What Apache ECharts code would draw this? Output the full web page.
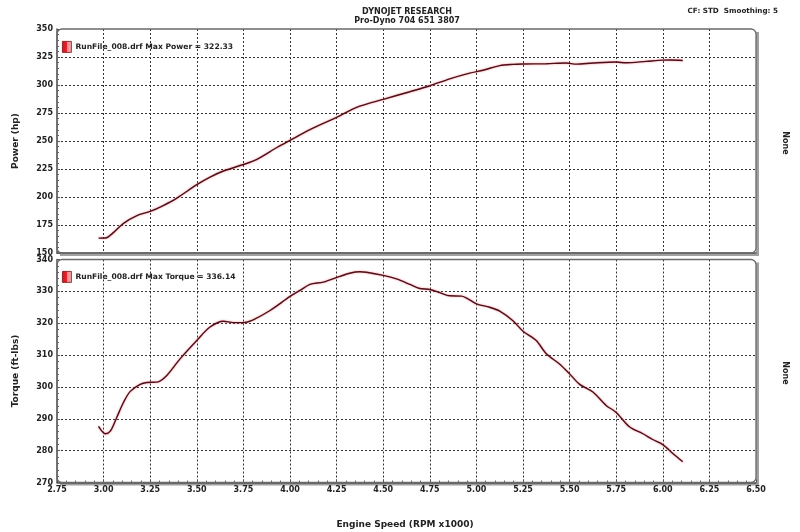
<!DOCTYPE html>
<html>
<head>
<meta charset="utf-8">
<title>Dynojet run</title>
<style>
  html, body { margin: 0; padding: 0; background: #fff; }
  #chart { width: 800px; height: 532px; }
</style>
</head>
<body>
<div id="chart"></div>
<script src="https://cdn.jsdelivr.net/npm/echarts@6/dist/echarts.min.js"></script>
<script>
// engine speed (RPM x1000) and readings
var powerRpm = [2.973, 3.01, 3.054, 3.107, 3.179, 3.25, 3.32, 3.393, 3.50, 3.571, 3.643, 3.75, 3.82, 3.93, 4.00,
  4.107, 4.25, 4.357, 4.50, 4.643, 4.75, 4.857, 4.964, 5.036, 5.125, 5.196, 5.25, 5.375, 5.482, 5.536,
  5.625, 5.75, 5.804, 5.911, 6.00, 6.036, 6.107];
var powerHp = [163.3, 163.4, 168.4, 176.5, 183.4, 187.2, 192.4, 199.0, 211.0, 217.8, 223.2, 229.0, 233.4, 244.2, 250.6,
  260.2, 271.0, 280.0, 287.2, 294.0, 299.3, 305.5, 310.6, 313.2, 317.3, 318.4, 318.7, 319.0, 319.6, 318.6,
  319.6, 320.5, 319.8, 321.1, 322.2, 322.33, 321.9];

var torqueRpm = [2.973, 3.009, 3.036, 3.071, 3.107, 3.143, 3.196, 3.232, 3.286, 3.339, 3.41, 3.50, 3.571, 3.643,
  3.696, 3.75, 3.80, 3.893, 4.00, 4.054, 4.107, 4.179, 4.268, 4.32, 4.375, 4.41, 4.50, 4.571, 4.643, 4.696,
  4.75, 4.804, 4.857, 4.92, 5.00, 5.071, 5.125, 5.196, 5.25, 5.321, 5.375, 5.446, 5.50, 5.554, 5.625,
  5.696, 5.75, 5.821, 5.893, 5.946, 6.00, 6.054, 6.107];
var torqueLbft = [287.6, 285.3, 286.1, 290.5, 295.2, 298.6, 300.8, 301.4, 301.5, 303.6, 308.8, 314.6, 318.8, 320.6,
  320.2, 320.2, 321.0, 324.0, 328.4, 330.3, 332.2, 332.9, 334.7, 335.7, 336.14, 336.0, 335.0, 333.9, 332.2, 330.9,
  330.6, 329.6, 328.6, 328.5, 326.1, 325.0, 323.8, 320.8, 317.5, 314.6, 310.4, 307.2, 304.1, 300.8, 298.4,
  294.2, 292.0, 287.5, 285.3, 283.5, 281.9, 279.1, 276.5];

var powerName = 'RunFile_008.drf Max Power = 322.33';
var torqueName = 'RunFile_008.drf Max Torque = 336.14';

var FONT = 'DejaVu Sans';
var lineColor = '#4e0f1c';

function pairs(xs, ys) {
  return xs.map(function (x, i) { return [x, ys[i]]; });
}

var grids = [
  { left: 57, top: 29, width: 699, height: 224 },
  { left: 57, top: 259.5, width: 699, height: 223 }
];

function gridOpt(g) {
  return {
    left: g.left, top: g.top, width: g.width, height: g.height,
    show: true, backgroundColor: '#fff', borderWidth: 0,
    shadowColor: '#a0a0a0', shadowBlur: 0, shadowOffsetX: 3, shadowOffsetY: 3
  };
}

function boxRect(g) {
  return {
    type: 'rect', z: 100, silent: true,
    shape: { x: g.left, y: g.top, width: g.width, height: g.height, r: 5 },
    style: { fill: null, stroke: '#6a6a6a', lineWidth: 1.3 }
  };
}

var splitStyle = { show: true, showMinLine: false, showMaxLine: false, lineStyle: { color: '#333', type: [2, 2], width: 1 } };
var labelStyle = { color: '#222', fontFamily: FONT, fontWeight: 'bold', fontSize: 8 };
var iconColor = {
  type: 'linear', x: 0, y: 0, x2: 1, y2: 0,
  colorStops: [{ offset: 0, color: '#d8121c' }, { offset: 0.5, color: '#e0262e' }, { offset: 0.55, color: '#f08a8a' }, { offset: 1, color: '#f6b0b0' }]
};

function xAxisOpt(idx, showLabels) {
  return {
    type: 'value', gridIndex: idx, min: 2.75, max: 6.5, interval: 0.25,
    axisLine: { show: true, lineStyle: { color: '#555', width: 1.5 } },
    axisTick: { show: showLabels, inside: true, length: 3, lineStyle: { color: '#555' } },
    minorTick: { show: showLabels, splitNumber: 5, length: 2, lineStyle: { color: '#666' } },
    axisLabel: { show: showLabels, margin: 3, formatter: function (v) { return v.toFixed(2); }, ...labelStyle },
    splitLine: splitStyle
  };
}

function yAxisOpt(idx, name, min, max, step) {
  return {
    type: 'value', gridIndex: idx, min: min, max: max, interval: step,
    name: name, nameLocation: 'middle', nameGap: 37,
    nameTextStyle: { color: '#222', fontFamily: FONT, fontWeight: 'bold', fontSize: 9 },
    axisLine: { show: true, lineStyle: { color: '#555', width: 1.5 } },
    axisTick: { show: true, inside: true, length: 3, lineStyle: { color: '#555' } },
    minorTick: { show: true, splitNumber: 5, length: 2, lineStyle: { color: '#666' } },
    axisLabel: { margin: 4, ...labelStyle },
    splitLine: splitStyle
  };
}

function legendOpt(name, top) {
  return {
    data: [name], left: 62, top: top, padding: 0,
    icon: 'rect', itemWidth: 9, itemHeight: 11, itemGap: 4,
    itemStyle: { color: iconColor, borderColor: '#7a1010', borderWidth: 0.8 },
    textStyle: { color: '#222', fontFamily: FONT, fontWeight: 'bold', fontSize: 7.6, padding: [0, 0, 0, -1] },
    selectedMode: false
  };
}

function lineSeries(name, idx, data) {
  return {
    name: name, type: 'line', xAxisIndex: idx, yAxisIndex: idx,
    data: data, smooth: 0.3, showSymbol: false, symbol: 'none',
    itemStyle: { color: '#e0262e' },
    lineStyle: { color: lineColor, width: 1.4, shadowColor: 'rgba(240,80,80,0.7)', shadowBlur: 2 },
    z: 3
  };
}

var chart = echarts.init(document.getElementById('chart'));
chart.setOption({
  animation: false,
  backgroundColor: '#fff',
  textStyle: { fontFamily: FONT },
  title: [
    { text: 'DYNOJET RESEARCH', left: 402, top: 3, textAlign: 'center',
      textStyle: { fontSize: 8, fontWeight: 'bold', color: '#222', fontFamily: FONT } },
    { text: 'Pro-Dyno 704 651 3807', left: 402, top: 12, textAlign: 'center',
      textStyle: { fontSize: 8, fontWeight: 'bold', color: '#222', fontFamily: FONT } },
    { text: 'CF: STD  Smoothing: 5', left: 773, top: 3, textAlign: 'right',
      textStyle: { fontSize: 7.2, fontWeight: 'bold', color: '#222', fontFamily: FONT } },
    { text: 'Engine Speed (RPM x1000)', left: 400, top: 515, textAlign: 'center',
      textStyle: { fontSize: 9, fontWeight: 'bold', color: '#222', fontFamily: FONT } }
  ],
  legend: [legendOpt(powerName, 41), legendOpt(torqueName, 271)],
  grid: grids.map(gridOpt),
  xAxis: [xAxisOpt(0, false), xAxisOpt(1, true)],
  yAxis: [
    yAxisOpt(0, 'Power (hp)', 150, 350, 25),
    yAxisOpt(1, 'Torque (ft-lbs)', 270, 340, 10)
  ],
  series: [
    lineSeries(powerName, 0, pairs(powerRpm, powerHp)),
    lineSeries(torqueName, 1, pairs(torqueRpm, torqueLbft))
  ],
  graphic: [
    boxRect(grids[0]),
    boxRect(grids[1]),
    { type: 'text', x: 785, y: 143, rotation: -Math.PI / 2,
      style: { text: 'None', fill: '#222', font: 'bold 8px "DejaVu Sans"', align: 'center', verticalAlign: 'middle' } },
    { type: 'text', x: 785, y: 373, rotation: -Math.PI / 2,
      style: { text: 'None', fill: '#222', font: 'bold 8px "DejaVu Sans"', align: 'center', verticalAlign: 'middle' } }
  ]
});
</script>
</body>
</html>
